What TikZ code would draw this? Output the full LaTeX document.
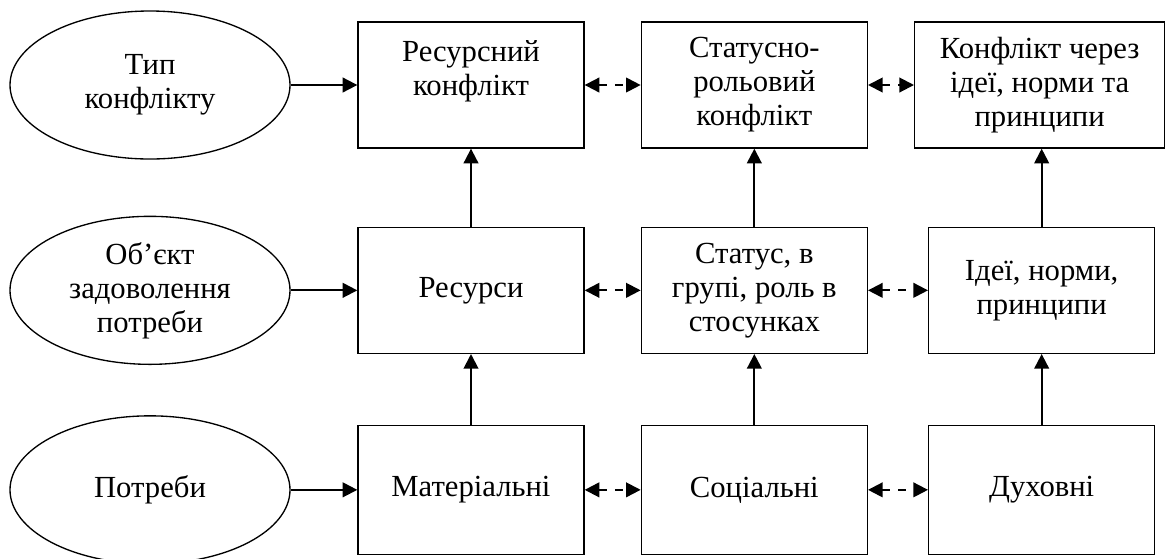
\documentclass[tikz,border=0pt]{standalone}
\usepackage{fontspec}
\setmainfont{Liberation Serif}
\usetikzlibrary{arrows.meta,positioning,shapes.geometric}

\begin{document}
\begin{tikzpicture}[
  x=0.75pt, y=-0.75pt,
  font=\fontsize{23}{25.5}\selectfont,
  >={Triangle[length=11pt,width=11pt]},
  oval/.style={draw,ellipse,line width=1pt,minimum width=210pt,minimum height=111pt,
               inner sep=0pt,align=center},
  box/.style={draw,line width=1pt,minimum width=169.5pt,minimum height=94.5pt,
              inner sep=0pt,align=center},
  wbox/.style={box,minimum width=187.5pt},
  up/.style={->,line width=1.5pt},
  link/.style={<->,line width=1.5pt,dash pattern=on 6pt off 6pt}
]
\useasboundingbox (0,0) rectangle (1166,558);

\node[box] (resconf) at (471,85) {Ресурсний\\конфлікт\\~};
\node[box,right=42pt of resconf] (statconf) {Статусно-\\рольовий\\конфлікт};
\node[wbox,right=34.5pt of statconf] (ideaconf) {Конфлікт через\\ідеї, норми та\\принципи};

\node[box,below=58.5pt of resconf] (resrc) {Ресурси};
\node[box,below=58.5pt of statconf] (status) {Статус, в\\групі, роль в\\стосунках};
\node[box,right=45pt of status] (ideas) {Ідеї, норми,\\принципи};

\node[box,below=53pt of resrc,minimum height=96.75pt] (mater) {Матеріальні};
\node[box,below=53pt of status,minimum height=96.75pt] (social) {Соціальні};
\node[box,below=53pt of ideas,minimum height=96.75pt] (spirit) {Духовні};

\node[oval,left=50pt of resconf] (ctype) {Тип\\конфлікту};
\node[oval,left=50pt of resrc] (cobj) {Об’єкт\\задоволення\\потреби};
\node[oval,left=50pt of mater] (cneed) {Потреби};

\draw[up] (ctype) -- (resconf);
\draw[up] (cobj) -- (resrc);
\draw[up] (cneed) -- (mater);

\draw[up] (mater) -- (resrc);
\draw[up] (resrc) -- (resconf);
\draw[up] (social) -- (status);
\draw[up] (status) -- (statconf);
\draw[up] (spirit) -- (ideas);
\draw[up] (ideas) -- (ideaconf.south -| ideas);

\draw[link] (resconf) -- (statconf);
\draw[link] (statconf) -- (ideaconf);
\draw[link] (resrc) -- (status);
\draw[link] (status) -- (ideas);
\draw[link] (mater) -- (social);
\draw[link] (social) -- (spirit);

\end{tikzpicture}
\end{document}
